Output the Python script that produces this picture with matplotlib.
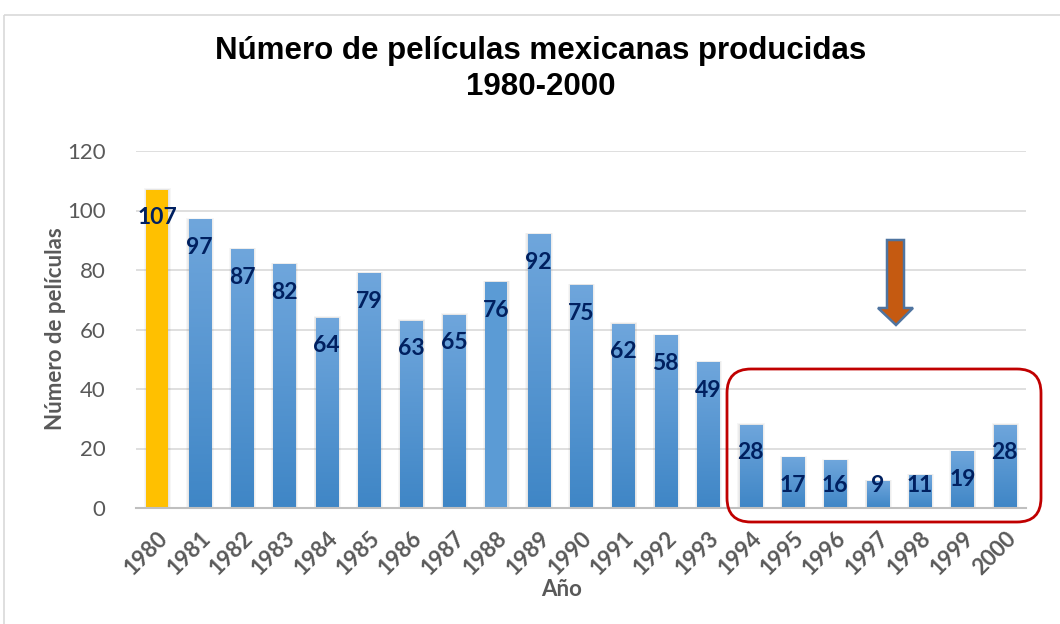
import matplotlib
matplotlib.use('Agg')
import matplotlib.pyplot as plt
import matplotlib.transforms as mtransforms
from matplotlib.colors import LinearSegmentedColormap
from matplotlib.patches import FancyBboxPatch, Polygon, Rectangle
import numpy as np

years = ['1980', '1981', '1982', '1983', '1984', '1985', '1986', '1987', '1988', '1989',
         '1990', '1991', '1992', '1993', '1994', '1995', '1996', '1997', '1998', '1999', '2000']
films = [107, 97, 87, 82, 64, 79, 63, 65, 76, 92, 75, 62, 58, 49, 28, 17, 16, 9, 11, 19, 28]
y_ticks = [0, 20, 40, 60, 80, 100, 120]

GRAY = '#595959'
NAVY = '#002060'
FONT = 'Lato'

fig = plt.figure(figsize=(10.6, 6.24), dpi=100)
ax = fig.add_axes([136 / 1060, 1 - 508 / 624, 890 / 1060, 357 / 624])

# pixel coordinates of the picture (origin top-left) -> figure
px = mtransforms.Affine2D().scale(1 / 1060, -1 / 624).translate(0, 1) + fig.transFigure

# chart area border
fig.patches.append(Rectangle((4, 15), 1080, 640, fill=False, edgecolor='#D9D9D9',
                             linewidth=1.2, transform=px, figure=fig))

x = np.arange(len(years))
width = 0.52

# soft shadow behind bars
for k in range(1, 4):
    ax.bar(x + 0.01, [v + 0.15 * k for v in films], width=width + 0.04 * k,
           color='#808080', alpha=0.07, zorder=1, linewidth=0)

bars = ax.bar(x, films, width=width, color='#5B9BD5', zorder=2, linewidth=0)
bars[0].set_facecolor('#FFC000')

blue_grad = LinearSegmentedColormap.from_list('bg', ['#3F86C6', '#6FA6DC'])
grad = np.linspace(0, 1, 256).reshape(-1, 1)
for i, b in enumerate(bars):
    if i in (0, 8):
        continue
    x0, h = b.get_x(), b.get_height()
    im = ax.imshow(grad, cmap=blue_grad, origin='lower', aspect='auto',
                   extent=(x0, x0 + b.get_width(), 0, h), zorder=2.5)
    im.set_clip_path(b)

for i, v in enumerate(films):
    ax.text(i, max(v - 9.5, 7.7), str(v), ha='center', va='center',
            fontsize=16.5, fontweight='bold', color=NAVY, family=FONT, zorder=5)

ax.set_xlim(-0.5, len(years) - 0.5)
ax.set_ylim(0, 120)
ax.set_yticks(y_ticks)
ax.set_yticklabels([str(t) for t in y_ticks], fontsize=16, color=GRAY, family=FONT)
ax.set_xticks(x)
ax.set_xticklabels(years, rotation=45, ha='right', rotation_mode='anchor',
                   fontsize=16, fontweight='bold', color=GRAY, family=FONT)
ax.tick_params(axis='both', length=0)
ax.tick_params(axis='x', pad=14)
ax.tick_params(axis='y', pad=22)

ax.grid(axis='y', color='#D9D9D9', linewidth=1.2, zorder=0)
ax.set_axisbelow(True)
for s in ['top', 'right', 'left']:
    ax.spines[s].set_visible(False)
ax.spines['bottom'].set_color('#BFBFBF')
ax.spines['bottom'].set_linewidth(1.5)
ax.spines['bottom'].set_zorder(3)

fig.text(55 / 1060, 1 - 329 / 624, 'Número de películas', rotation=90, ha='center', va='center',
         fontsize=16, fontweight='bold', color=GRAY, family=FONT)
fig.text(562 / 1060, 1 - 589 / 624, 'Año', ha='center', va='center',
         fontsize=16, fontweight='bold', color=GRAY, family=FONT)

fig.text(541 / 1060, 1 - 69 / 624, 'Número de películas mexicanas producidas\n1980-2000',
         ha='center', va='center', fontsize=22.5, fontweight='bold', color='black',
         family='Liberation Sans', linespacing=1.25)

# highlight box for the 1994-2000 drop
fig.patches.append(FancyBboxPatch((727, 369), 314, 153,
                                  boxstyle='round,pad=0,rounding_size=24',
                                  fill=False, edgecolor='#C00000', linewidth=2,
                                  transform=px, figure=fig, zorder=6))

# down arrow
arrow = [(887, 240), (904, 240), (904, 308), (913, 308), (896, 325),
         (878, 308), (887, 308)]
fig.patches.append(Polygon(arrow, closed=True, facecolor='#C55A11', edgecolor='#4F74A0',
                           linewidth=1.8, transform=px, figure=fig, zorder=6))

fig.savefig('out.png', dpi=100)
